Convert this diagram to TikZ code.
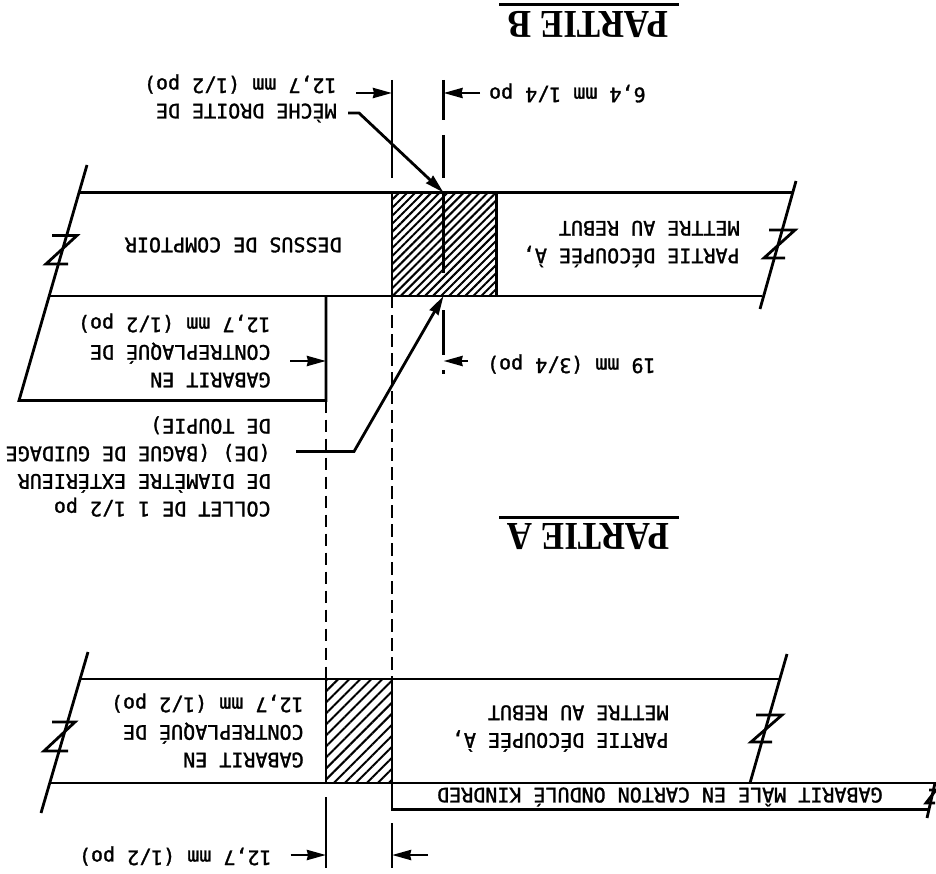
\documentclass[tikz,border=0pt]{standalone}
\usepackage{fontspec}
\setmainfont{Liberation Serif}
\setmonofont[RawFeature={embolden=1.4}]{DejaVu Sans Mono}
\usetikzlibrary{arrows.meta,patterns.meta}

\begin{document}
\begin{tikzpicture}[x=1pt,y=-1pt,line width=2.8pt,line join=miter,
		note node/.style={rotate=180,anchor=west,inner sep=0pt,align=left,
			font=\ttfamily\fontsize{20}{27.6}\selectfont},
		title node/.style={rotate=180,yscale=1.13,inner sep=0pt,font=\bfseries\fontsize{35}{35}\selectfont},
		dim/.style={-{Stealth[length=19pt,width=10pt,inset=1pt]}},
		hidden/.style={dash pattern=on 12.5pt off 6.5pt},
		hatchA/.style={pattern={Lines[angle=45,distance=7.8pt,line width=2pt]}},
		hatchB/.style={pattern={Lines[angle=45,distance=5.7pt,line width=2pt]}}]

		\useasboundingbox (0,0) rectangle (936,874);

		% titles
		\node[title node] (partB) at (588.5,25) {PARTIE B};
		\node[title node] (partA) at (588.5,537) {PARTIE A};
		\draw[line width=3pt] (499,5) -- (679,5);
		\draw[line width=3pt] (499,517.5) -- (679,517.5);

		% hatched parts
		\path[hatchB] (392,192.5) rectangle (496.5,296);
		\path[hatchA] (326,679) rectangle (392,783);
		\draw (392,192.5) -- (392,296) (496.5,192.5) -- (496.5,296);
		\draw (326,679) -- (326,783) (392,679) -- (392,783);

		% upper bands
		\draw (80,192.5) -- (792,192.5);
		\draw (50,296) -- (762,296);
		\draw (87,165) -- (19,400.5) -- (326,400.5) -- (326,296);
		\draw (796,181) -- (760,309);

		% lower bands
		\draw (80,679) -- (780,679);
		\draw (50,783) -- (936,783);
		\draw (392,783) -- (392,809.5) -- (928,809.5);
		\draw (88,652) -- (41,813);
		\draw (787,654) -- (750,783);
		\draw (935,783) -- (927,818);

		% break marks
		\foreach \xa/\xb/\xc/\xd/\ya/\yb in {52/77/46/68/235.5/264, 769/795/764/785/230/258,
				52/75/44/68/722/751, 756/782/751/772/715/742, 929/936/926/935/790/803}
			\draw (\xa,\ya) -- (\xb,\ya) -- (\xc,\yb) -- (\xd,\yb);

		% extension lines
		\draw (392,80) -- (392,178);
		\draw (443.5,80) -- (443.5,120) (443.5,135) -- (443.5,178);
		\draw (443.5,192.5) -- (443.5,273);
		\draw (443.5,310) -- (443.5,355) (443.5,370) -- (443.5,374);
		\draw[hidden] (392,296) -- (392,679);
		\draw[hidden] (326,400.5) -- (326,679);
		\draw (326,797) -- (326,868);
		\draw (392,823) -- (392,868);

		% labels
		\node[note node] (dimTopL) at (338,84) {12,7 mm (1/2 po)};
		\node[note node] (meche) at (338,113) {MÈCHE DROITE DE};
		\node[note node] (dimTopR) at (647,93) {6,4 mm 1/4 po};
		\node[note node] (dessus) at (343,245) {DESSUS DE COMPTOIR};
		\node[note node] (rebutB) at (741,244) {PARTIE DÉCOUPÉE À,\\METTRE AU REBUT};
		\node[note node] (gabaritB) at (272,350.5) {GABARIT EN\\CONTREPLAQUÉ DE\\12,7 mm (1/2 po)};
		\node[note node] (dimMid) at (657,364) {19 mm (3/4 po)};
		\node[note node] (collet) at (272,466.5) {COLLET DE 1 1/2 po\\DE DIAMÈTRE EXTÉRIEUR\\(DE) (BAGUE DE GUIDAGE\\DE TOUPIE)};
		\node[note node] (gabaritA) at (305,730.5) {GABARIT EN\\CONTREPLAQUÉ DE\\12,7 mm (1/2 po)};
		\node[note node] (rebutA) at (670,728.5) {PARTIE DÉCOUPÉE À,\\METTRE AU REBUT};
		\node[note node] (male) at (884,797) {GABARIT MÂLE EN CARTON ONDULÉ KINDRED};
		\node[note node] (dimBot) at (273,856) {12,7 mm (1/2 po)};

		% dimension arrows and leaders
		\coordinate (topTip) at (443.5,192.5);
		\coordinate (botTip) at (443.5,296);
		\draw[dim] (356,93) -- (392,93);
		\draw[dim] (480,93) -- (443.5,93);
		\draw[dim] (468,361) -- (443.5,361);
		\draw[dim] (290,361) -- (326,361);
		\draw[dim] (290.5,855) -- (326,855);
		\draw[dim] (428,855) -- (392,855);
		\draw[dim] (348,113) -- (359,113) -- (topTip);
		\draw[dim] (296,451.5) -- (354,451.5) -- (botTip);
	\end{tikzpicture}
\end{document}
